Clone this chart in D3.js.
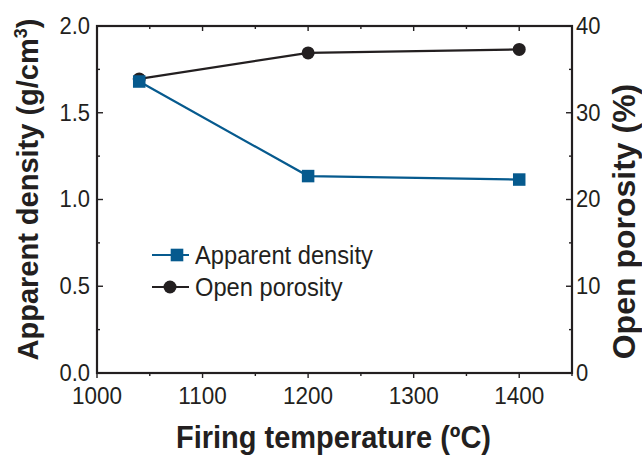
<!DOCTYPE html>
<html><head><meta charset="utf-8">
<script src="https://cdn.jsdelivr.net/npm/d3@7"></script>
<style>body{margin:0;background:#fff}svg{display:block}text{font-family:"Liberation Sans",Arial,sans-serif;fill:#231f20}</style>
</head><body>
<svg id="c" width="642" height="455"></svg>
<script>
const temperatures = [1040, 1200, 1400];
const apparentDensity = [1.68, 1.135, 1.115];
const openPorosity = [33.9, 36.9, 37.3];
const xTicks = [1000, 1100, 1200, 1300, 1400];
const xMinor = [1050, 1150, 1250, 1350, 1450];
const yLeftTicks = [0, 0.5, 1.0, 1.5, 2.0];
const yLeftMinor = [0.25, 0.75, 1.25, 1.75];
const yRightTicks = [0, 10, 20, 30, 40];
const yRightMinor = [5, 15, 25, 35];
const seriesNames = ["Apparent density", "Open porosity"];

const ink = "#231f20", blue = "#065a8e";
const svg = d3.select("#c");
const L = 97, R = 572, T = 26, B = 373;
const x = d3.scaleLinear().domain([1000, 1450]).range([L, R]);
const yL = d3.scaleLinear().domain([0, 2]).range([B, T]);
const yR = d3.scaleLinear().domain([0, 40]).range([B, T]);

const g = svg.append("g");
g.append("rect").attr("x", L).attr("y", T).attr("width", R - L).attr("height", B - T)
  .attr("fill", "none").attr("stroke", ink).attr("stroke-width", 2.2);

function tickLines(vals, f, len) {
  vals.forEach(v => { const [x1,y1,x2,y2] = f(v, len);
    g.append("line").attr("x1",x1).attr("y1",y1).attr("x2",x2).attr("y2",y2)
     .attr("stroke", ink).attr("stroke-width", 1.4); });
}
tickLines(xTicks, (v,l)=>[x(v),B,x(v),B+l], 5);
tickLines(xMinor, (v,l)=>[x(v),B,x(v),B+l], 3);
tickLines(xTicks, (v,l)=>[x(v),T,x(v),T+l], 5);
tickLines(xMinor, (v,l)=>[x(v),T,x(v),T+l], 3);
tickLines(yLeftTicks, (v,l)=>[L,yL(v),L+l,yL(v)], 6);
tickLines(yLeftMinor, (v,l)=>[L,yL(v),L+l,yL(v)], 3);
tickLines(yRightTicks, (v,l)=>[R,yR(v),R-l,yR(v)], 6);
tickLines(yRightMinor, (v,l)=>[R,yR(v),R-l,yR(v)], 3);

function txt(px, py, s, size, anchor, dy) {
  return g.append("text").attr("transform", `translate(${px},${py}) scale(1,1.1)`)
    .attr("text-anchor", anchor).attr("dy", dy || 0).attr("font-size", size).text(s);
}
xTicks.forEach(v => txt(x(v), B + 31, v, 22.5, "middle"));
yLeftTicks.forEach(v => txt(L - 7, yL(v), d3.format(".1f")(v), 22, "end", "0.33em"));
yRightTicks.forEach(v => txt(R + 4, yR(v), v, 22, "start", "0.33em"));

g.append("text").attr("transform", `translate(${(L + R) / 2 - 1},448) scale(1,1.05)`).attr("text-anchor","middle")
  .attr("font-size", 29).attr("font-weight","bold").text("Firing temperature (ºC)");
const lt = g.append("text").attr("transform", `translate(38,${(T+B)/2 - 10}) rotate(-90)`)
  .attr("text-anchor","middle").attr("font-size", 29).attr("font-weight","bold");
lt.append("tspan").text("Apparent density (g/cm");
lt.append("tspan").attr("font-size", 18).attr("dy", -11).text("3");
lt.append("tspan").attr("dy", 11).text(")");
g.append("text").attr("transform", `translate(635,221.5) rotate(-90)`)
  .attr("text-anchor","middle").attr("font-size", 32).attr("font-weight","bold").text("Open porosity (%)");

const line = d3.line();
const pPts = temperatures.map((t,i)=>[x(t), yR(openPorosity[i])]);
const dPts = temperatures.map((t,i)=>[x(t), yL(apparentDensity[i])]);
g.append("path").attr("d", line(pPts)).attr("fill","none").attr("stroke", ink).attr("stroke-width", 2.2);
pPts.forEach(p => g.append("circle").attr("cx", p[0]).attr("cy", p[1]).attr("r", 6.5).attr("fill", ink));
g.append("path").attr("d", line(dPts)).attr("fill","none").attr("stroke", blue).attr("stroke-width", 2.2);
const sq = 12.5;
dPts.forEach(p => g.append("rect").attr("x", p[0]-sq/2).attr("y", p[1]-sq/2).attr("width", sq).attr("height", sq).attr("fill", blue));

const leg = [{n: seriesNames[0], c: blue, m: "sq", mx: 177}, {n: seriesNames[1], c: ink, m: "ci", mx: 170}];
leg.forEach((d,i) => {
  const yy = 255 + i * 32, x0 = 152, x1 = 189;
  g.append("line").attr("x1", x0).attr("x2", x1).attr("y1", yy).attr("y2", yy).attr("stroke", d.c).attr("stroke-width", 2.2);
  if (d.m === "sq") g.append("rect").attr("x", d.mx - 6.3).attr("y", yy - 6.3).attr("width", 12.6).attr("height", 12.6).attr("fill", d.c);
  else g.append("circle").attr("cx", d.mx).attr("cy", yy).attr("r", 6.5).attr("fill", d.c);
  txt(195, yy, d.n, 23.7, "start", "0.36em");
});
</script>
</body></html>
